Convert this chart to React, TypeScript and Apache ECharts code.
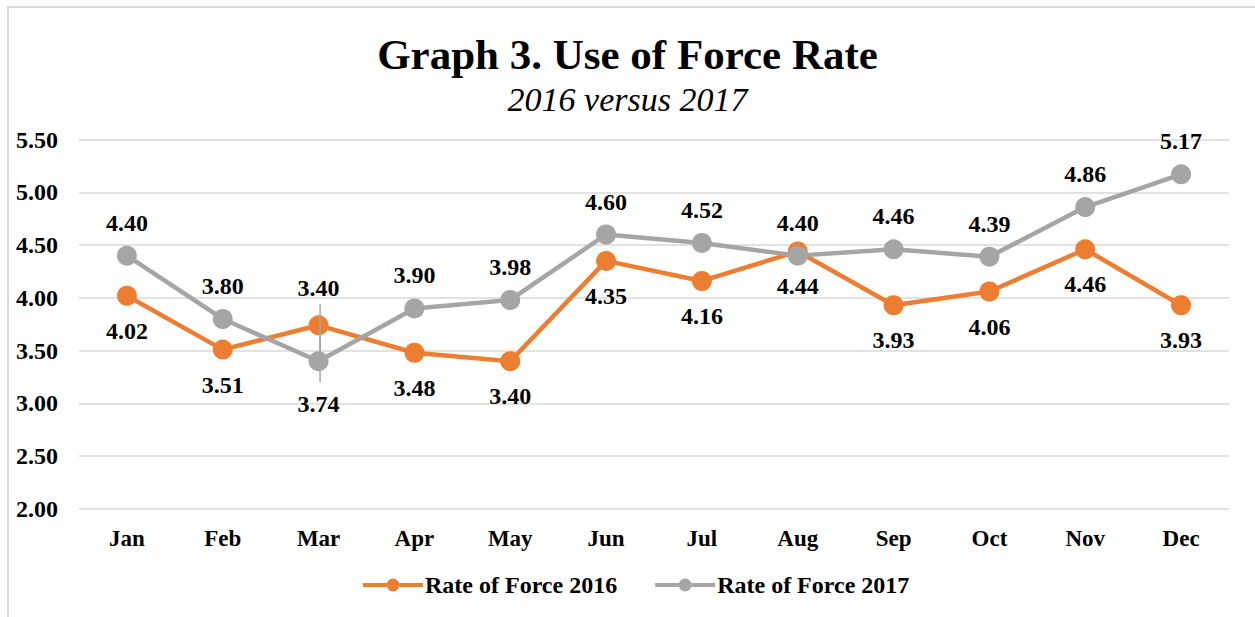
import React, { useEffect, useRef } from "react";
import * as echarts from "echarts";

const months = ["Jan", "Feb", "Mar", "Apr", "May", "Jun", "Jul", "Aug", "Sep", "Oct", "Nov", "Dec"];
const rate2016 = [4.02, 3.51, 3.74, 3.48, 3.40, 4.35, 4.16, 4.44, 3.93, 4.06, 4.46, 3.93];
const rate2017 = [4.40, 3.80, 3.40, 3.90, 3.98, 4.60, 4.52, 4.40, 4.46, 4.39, 4.86, 5.17];
const yTicks = [2.0, 2.5, 3.0, 3.5, 4.0, 4.5, 5.0, 5.5];
// month index whose labels are moved away with leader lines
const leaderMonth = 2;

const ORANGE = "#ED7D31";
const GRAY = "#A5A5A5";
const FONT = "'Liberation Serif', 'Times New Roman', serif";
// legend icon: thick line with a dot in the middle (60 x 14 box)
const LEGEND_ICON =
  "path://M0,5h23.5v4h-23.5z M36.5,5h23.5v4h-23.5z M23.5,7a6.5,6.5 0 1,0 13,0a6.5,6.5 0 1,0 -13,0z";

export default function App() {
  const ref = useRef<HTMLDivElement>(null);

  useEffect(() => {
    if (!ref.current) return;
    const chart = echarts.init(ref.current, null, { renderer: "svg" });

    const labelBase = {
      show: true,
      color: "#000",
      fontFamily: FONT,
      fontWeight: "bold" as const,
      fontSize: 24,
      formatter: (p: any) => Number(p.value).toFixed(2),
    };

    const d2016 = rate2016.map((v, i) =>
      i === leaderMonth ? { value: v, label: { offset: [0, 44] } } : v
    );
    const d2017 = rate2017.map((v, i) =>
      i === leaderMonth ? { value: v, label: { offset: [0, -40] } } : v
    );

    const leaderData = [
      [leaderMonth, rate2017[leaderMonth], -1],
      [leaderMonth, rate2016[leaderMonth], 1],
    ];
    const LEADER_LEN = 57;

    chart.setOption({
      animation: false,
      backgroundColor: "#fff",
      title: {
        text: "Graph 3. Use of Force Rate",
        subtext: "2016 versus 2017",
        left: "center",
        top: 33,
        padding: 0,
        itemGap: 6,
        textStyle: { fontFamily: FONT, fontWeight: "bold", fontSize: 43, color: "#000" },
        subtextStyle: { fontFamily: FONT, fontStyle: "italic", fontSize: 34, color: "#000" },
      },
      graphic: [
        {
          type: "rect",
          shape: { x: 8, y: 7, width: 1400, height: 800 },
          style: { fill: "none", stroke: "#d9d9d9", lineWidth: 2 },
          silent: true,
          z: -10,
        },
      ],
      grid: { left: 79, right: 26, top: 139.5, bottom: 108, containLabel: false },
      xAxis: {
        type: "category",
        data: months,
        boundaryGap: true,
        axisLine: { show: false },
        axisTick: { show: false },
        axisLabel: {
          color: "#000",
          fontFamily: FONT,
          fontWeight: "bold",
          fontSize: 23,
          margin: 18,
        },
      },
      yAxis: {
        type: "value",
        min: yTicks[0],
        max: yTicks[yTicks.length - 1],
        interval: 0.5,
        axisLine: { show: false },
        axisTick: { show: false },
        splitLine: { lineStyle: { color: "#d9d9d9", width: 1.5 } },
        axisLabel: {
          color: "#000",
          fontFamily: FONT,
          fontWeight: "bold",
          fontSize: 24,
          margin: 21,
          formatter: (v: number) => v.toFixed(2),
        },
      },
      legend: {
        bottom: 15,
        left: 358,
        itemWidth: 60,
        itemHeight: 14,
        itemGap: 38,
        icon: LEGEND_ICON,
        textStyle: { color: "#000", fontFamily: FONT, fontWeight: "bold", fontSize: 24, padding: [0, 0, 0, -3] },
        data: ["Rate of Force 2016", "Rate of Force 2017"],
      },
      series: [
        {
          name: "Rate of Force 2016",
          type: "line",
          data: d2016,
          symbol: "circle",
          symbolSize: 20,
          color: ORANGE,
          lineStyle: { color: ORANGE, width: 4.5 },
          itemStyle: { color: ORANGE },
          label: { ...labelBase, position: "bottom", distance: 13 },
          z: 3,
        },
        {
          name: "Rate of Force 2017",
          type: "line",
          data: d2017,
          symbol: "circle",
          symbolSize: 20,
          color: GRAY,
          lineStyle: { color: GRAY, width: 4.5 },
          itemStyle: { color: GRAY },
          label: { ...labelBase, position: "top", distance: 11 },
          z: 4,
        },
        {
          type: "custom",
          silent: true,
          z: 10,
          data: leaderData,
          renderItem: (params: any, api: any) => {
            const p = api.coord([api.value(0), api.value(1)]);
            const dir = api.value(2);
            return {
              type: "line",
              shape: { x1: p[0] + 1.5, y1: p[1], x2: p[0] + 1.5, y2: p[1] + dir * LEADER_LEN },
              style: { stroke: GRAY, lineWidth: 1.5 },
            };
          },
        },
      ],
    });

    return () => chart.dispose();
  }, []);

  return (
    <div
      ref={ref}
      style={{ position: "absolute", left: 0, top: 0, width: 1255, height: 617 }}
    />
  );
}
